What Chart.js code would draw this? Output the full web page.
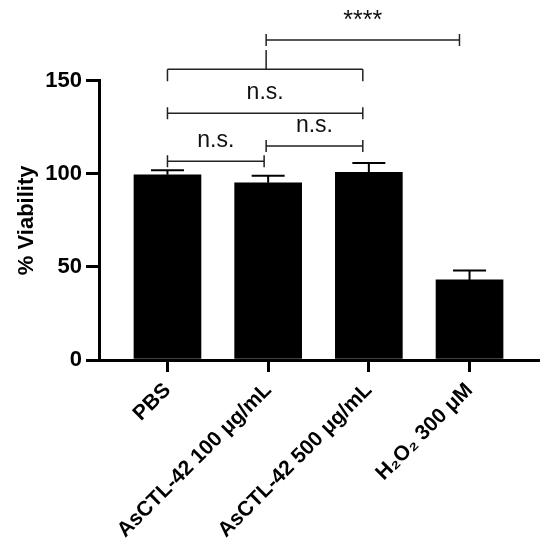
<!DOCTYPE html>
<html>
<head>
<meta charset="utf-8">
<script src="https://cdn.jsdelivr.net/npm/chart.js@4.4.1/dist/chart.umd.min.js"></script>
<style>
  html, body { margin: 0; padding: 0; background: #fff; }
  #wrap { width: 550px; height: 550px; }
</style>
</head>
<body>
<div id="wrap"><canvas id="c" width="550" height="550"></canvas></div>
<script>
// ---- data ----
const categories = ["PBS", "AsCTL-42 100 μg/mL", "AsCTL-42 500 μg/mL", "H₂O₂ 300 μM"];
const viability = [99.5, 95.2, 100.8, 43.0];
const sdUpper = [2.4, 3.8, 5.0, 5.0];
const yTicks = [0, 50, 100, 150];
// significance brackets: from / to (category position), level (% viability), label
const bracketFrom = [0, 0.98, 0, 0, 0.98];
const bracketTo = [0.96, 1.94, 1.94, 1.94, 2.90];
const bracketLevel = [106.7, 114.9, 132.5, 156.1, 171.9];
const bracketLabel = ["n.s.", "n.s.", "n.s.", "", "****"];

const FONT = "'Liberation Sans', Arial, Helvetica, sans-serif";

const errorBarPlugin = {
  id: 'errorBars',
  afterDatasetsDraw(chart) {
    const ctx = chart.ctx;
    const xs = chart.scales.x, ys = chart.scales.y;
    ctx.save();
    ctx.strokeStyle = '#000';
    ctx.lineWidth = 2;
    viability.forEach((v, i) => {
      const x = xs.getPixelForValue(i);
      const y0 = ys.getPixelForValue(v);
      const y1 = ys.getPixelForValue(v + sdUpper[i]);
      ctx.beginPath();
      ctx.moveTo(x, y0);
      ctx.lineTo(x, y1);
      ctx.moveTo(x - 16.5, y1);
      ctx.lineTo(x + 16.5, y1);
      ctx.stroke();
    });
    ctx.restore();
  }
};

const bracketPlugin = {
  id: 'brackets',
  afterDraw(chart) {
    const ctx = chart.ctx;
    const xs = chart.scales.x, ys = chart.scales.y;
    ctx.save();
    ctx.strokeStyle = '#222';
    ctx.lineWidth = 1.5;
    ctx.fillStyle = '#111';
    ctx.textAlign = 'center';
    ctx.textBaseline = 'alphabetic';
    for (let i = 0; i < bracketLevel.length; i++) {
      const xa = xs.getPixelForValue(bracketFrom[i]);
      const xb = xs.getPixelForValue(bracketTo[i]);
      const y = ys.getPixelForValue(bracketLevel[i]);
      ctx.beginPath();
      ctx.moveTo(xa, y); ctx.lineTo(xb, y);
      if (i === 3) {
        ctx.moveTo(xa, y); ctx.lineTo(xa, y + 12);
        ctx.moveTo(xb, y); ctx.lineTo(xb, y + 12);
        const xm = xs.getPixelForValue(bracketFrom[4]);
        const yTop = ys.getPixelForValue(bracketLevel[4]);
        ctx.moveTo(xm, y); ctx.lineTo(xm, yTop + 10);
      } else {
        ctx.moveTo(xa, y - 6); ctx.lineTo(xa, y + 6);
        ctx.moveTo(xb, y - 6); ctx.lineTo(xb, y + 6);
      }
      ctx.stroke();
      if (bracketLabel[i]) {
        const stars = bracketLabel[i].startsWith('*');
        ctx.font = (stars ? "25px " : "23px ") + FONT;
        ctx.fillText(bracketLabel[i], (xa + xb) / 2, y - (stars ? 12 : 14));
      }
    }
    ctx.restore();
  }
};

new Chart(document.getElementById('c'), {
  type: 'bar',
  data: {
    datasets: [{
      data: viability.map((v, i) => ({ x: i, y: v })),
      backgroundColor: '#000',
      borderWidth: 0,
      barThickness: 67
    }]
  },
  options: {
    responsive: false,
    animation: false,
    events: [],
    layout: { padding: { top: 80.7, right: 12, left: 0, bottom: 0 } },
    plugins: { legend: { display: false }, tooltip: { enabled: false } },
    scales: {
      x: {
        type: 'linear',
        min: -0.68,
        max: 3.68,
        offset: false,
        afterBuildTicks: s => { s.ticks = categories.map((c, i) => ({ value: i })); },
        afterFit: s => { s.height = 190; },
        border: { display: true, width: 3, color: '#000' },
        grid: { offset: false, drawOnChartArea: false, drawTicks: true, tickLength: 12, tickWidth: 3, tickColor: '#000', lineWidth: 3 },
        ticks: {
          autoSkip: false,
          minRotation: 45,
          maxRotation: 45,
          padding: 6,
          color: '#000',
          font: { family: FONT, size: 21, weight: 'bold' },
          callback: v => categories[v]
        }
      },
      y: {
        min: 0,
        max: 150,
        afterBuildTicks: s => { s.ticks = yTicks.map(v => ({ value: v })); },
        afterFit: s => { s.width = 99; },
        border: { display: true, width: 3, color: '#000' },
        grid: { drawOnChartArea: false, drawTicks: true, tickLength: 13, tickWidth: 3, tickColor: '#000', lineWidth: 3 },
        ticks: {
          padding: 4,
          color: '#000',
          font: { family: FONT, size: 22, weight: 'bold' }
        },
        title: {
          display: true,
          text: '% Viability',
          color: '#000',
          padding: { top: 14, bottom: 0 },
          font: { family: FONT, size: 22, weight: 'bold' }
        }
      }
    }
  },
  plugins: [errorBarPlugin, bracketPlugin]
});
</script>
</body>
</html>
